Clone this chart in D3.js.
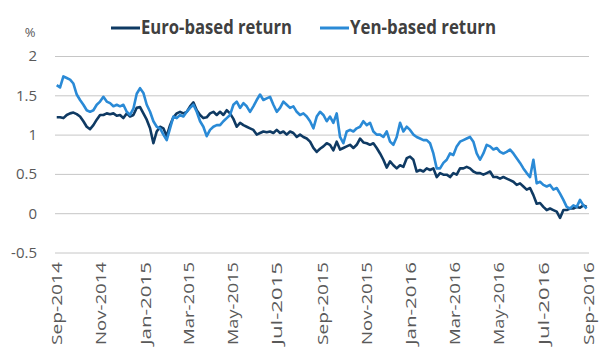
<!DOCTYPE html>
<html>
<head>
<meta charset="utf-8">
<title>Euro vs Yen based return</title>
<script src="https://d3js.org/d3.v7.min.js"></script>
<style>
  body { margin: 0; background: #fff; }
  text { font-family: "Open Sans", sans-serif; }
</style>
</head>
<body>
<div id="chart"></div>
<script>

// observations, roughly every 4.6 days from early Sep 2014 to end Aug 2016
var euroReturn = [
  1.22, 1.22, 1.21, 1.25, 1.27, 1.28, 1.26, 1.23, 1.17, 1.10, 1.07, 1.12, 1.19, 1.25, 1.25, 1.27, 1.26, 1.27, 1.24, 1.25, 1.21, 1.27, 1.23, 1.25, 1.34, 1.35,
  1.27, 1.19, 1.08, 0.89, 1.04, 1.10, 1.08, 0.98, 1.12, 1.22, 1.27, 1.29, 1.27, 1.29, 1.36, 1.41, 1.31, 1.25, 1.21, 1.22, 1.27, 1.29, 1.25, 1.29, 1.25, 1.31, 1.27,
  1.20, 1.10, 1.15, 1.12, 1.10, 1.08, 1.06, 1.00, 1.02, 1.04, 1.03, 1.04, 1.02, 1.06, 1.02, 1.04, 1.00, 1.04, 1.02, 0.97, 1.00, 0.97, 0.95, 0.91, 0.83, 0.78, 0.82,
  0.85, 0.89, 0.87, 0.80, 0.91, 0.81, 0.83, 0.85, 0.87, 0.83, 0.87, 0.95, 0.90, 0.89, 0.87, 0.89, 0.83, 0.76, 0.68, 0.58, 0.66, 0.61, 0.57, 0.61, 0.59, 0.70, 0.72,
  0.68, 0.53, 0.55, 0.53, 0.57, 0.55, 0.57, 0.46, 0.51, 0.49, 0.49, 0.46, 0.51, 0.49, 0.57, 0.57, 0.59, 0.57, 0.53, 0.51, 0.51, 0.49, 0.51, 0.53, 0.46, 0.46, 0.44,
  0.46, 0.44, 0.42, 0.40, 0.36, 0.38, 0.34, 0.30, 0.32, 0.23, 0.12, 0.13, 0.08, 0.04, 0.06, 0.04, 0.02, -0.06, 0.04, 0.04, 0.06, 0.06, 0.08, 0.07, 0.10, 0.08
];

var yenReturn = [
  1.63, 1.60, 1.74, 1.72, 1.70, 1.65, 1.51, 1.44, 1.38, 1.31, 1.29, 1.31, 1.38, 1.42, 1.48, 1.42, 1.40, 1.36, 1.38, 1.36, 1.38, 1.29, 1.25, 1.33, 1.52, 1.59,
  1.53, 1.38, 1.29, 1.17, 1.10, 1.08, 1.00, 0.93, 1.08, 1.23, 1.21, 1.25, 1.23, 1.29, 1.34, 1.38, 1.29, 1.17, 1.10, 0.98, 1.06, 1.10, 1.12, 1.12, 1.17, 1.21, 1.25,
  1.38, 1.42, 1.34, 1.40, 1.36, 1.29, 1.36, 1.44, 1.51, 1.44, 1.46, 1.48, 1.38, 1.29, 1.34, 1.42, 1.38, 1.34, 1.36, 1.29, 1.25, 1.27, 1.23, 1.17, 1.08, 1.23, 1.29,
  1.25, 1.17, 1.23, 1.15, 1.27, 0.97, 0.89, 1.04, 1.06, 1.04, 1.08, 1.10, 1.17, 1.12, 1.15, 1.04, 1.00, 1.00, 0.97, 1.04, 0.91, 0.87, 0.97, 1.15, 1.04, 1.10, 1.06,
  1.00, 0.97, 0.95, 0.93, 0.93, 0.89, 0.76, 0.57, 0.57, 0.64, 0.68, 0.76, 0.74, 0.85, 0.91, 0.93, 0.95, 0.97, 0.91, 0.76, 0.68, 0.76, 0.87, 0.85, 0.81, 0.83, 0.78,
  0.76, 0.78, 0.81, 0.76, 0.70, 0.64, 0.57, 0.51, 0.46, 0.68, 0.38, 0.40, 0.36, 0.34, 0.36, 0.30, 0.32, 0.25, 0.17, 0.08, 0.06, 0.10, 0.08, 0.17, 0.10, 0.06
];

var firstObs = new Date(2014, 8, 2);
var obsStepDays = 4.58;
var obsDates = euroReturn.map(function(d, i) {
  return d3.timeHour.offset(firstObs, Math.round(i * obsStepDays * 24));
});

var yTicks = [-0.5, 0, 0.5, 1, 1.5, 2];
var seriesNames = ["Euro-based return", "Yen-based return"];
var seriesColors = ["#0f3a63", "#2a8ad6"];

var width = 600, height = 351;

var svg = d3.select("#chart")
  .append("svg")
  .attr("width", width)
  .attr("height", height);

var x = d3.scaleTime()
  .domain([new Date(2014, 8, 1), new Date(2016, 8, 1)])
  .range([56, 588]);

var y = d3.scaleLinear()
  .domain([-0.5, 2])
  .range([252.5, 56]);

// y axis with gridlines
var yAxis = svg.append("g")
  .attr("transform", "translate(55,0)")
  .call(d3.axisLeft(y)
    .tickValues(yTicks)
    .tickSize(-534)
    .tickPadding(18)
    .tickFormat(function(d) { return String(d); }));
yAxis.select(".domain").remove();
yAxis.selectAll("line").attr("stroke", "#c6c6c6").attr("stroke-width", 1);
yAxis.selectAll("text")
  .attr("fill", "#595959")
  .style("font-size", "15px")
  .style("font-family", "'Open Sans', sans-serif");

// x axis, labels every two months
var xAxis = svg.append("g")
  .attr("transform", "translate(0,255)")
  .call(d3.axisBottom(x)
    .ticks(d3.timeMonth.every(2))
    .tickSize(0)
    .tickFormat(d3.timeFormat("%b-%Y")));
xAxis.select(".domain").remove();
xAxis.selectAll("text")
  .attr("fill", "#595959")
  .style("font-size", "15px")
  .style("font-family", "'Open Sans', sans-serif")
  .attr("text-anchor", "end")
  .attr("transform", "rotate(-90)")
  .attr("x", -7)
  .attr("y", 0)
  .attr("dy", "0.36em")
  .attr("textLength", 83)
  .attr("lengthAdjust", "spacingAndGlyphs");

svg.append("text")
  .attr("x", 30)
  .attr("y", 37)
  .attr("text-anchor", "middle")
  .attr("fill", "#595959")
  .style("font-size", "13px")
  .text("%");

var line = d3.line()
  .x(function(d, i) { return x(obsDates[i]); })
  .y(function(d) { return y(d); });

[euroReturn, yenReturn].forEach(function(series, k) {
  svg.append("path")
    .datum(series)
    .attr("fill", "none")
    .attr("stroke", seriesColors[k])
    .attr("stroke-width", 2.6)
    .attr("stroke-linejoin", "round")
    .attr("d", line);
});

// legend
var legendX = [111, 320];
var legendLen = [151, 146];
seriesNames.forEach(function(name, k) {
  svg.append("line")
    .attr("x1", legendX[k])
    .attr("x2", legendX[k] + 29)
    .attr("y1", 28)
    .attr("y2", 28)
    .attr("stroke", seriesColors[k])
    .attr("stroke-width", 3);
  svg.append("text")
    .attr("x", legendX[k] + 30)
    .attr("y", 34)
    .attr("fill", "#404040")
    .style("font-size", "19px")
    .style("font-weight", "bold")
    .attr("textLength", legendLen[k])
    .attr("lengthAdjust", "spacingAndGlyphs")
    .text(name);
});

</script>
</body>
</html>
